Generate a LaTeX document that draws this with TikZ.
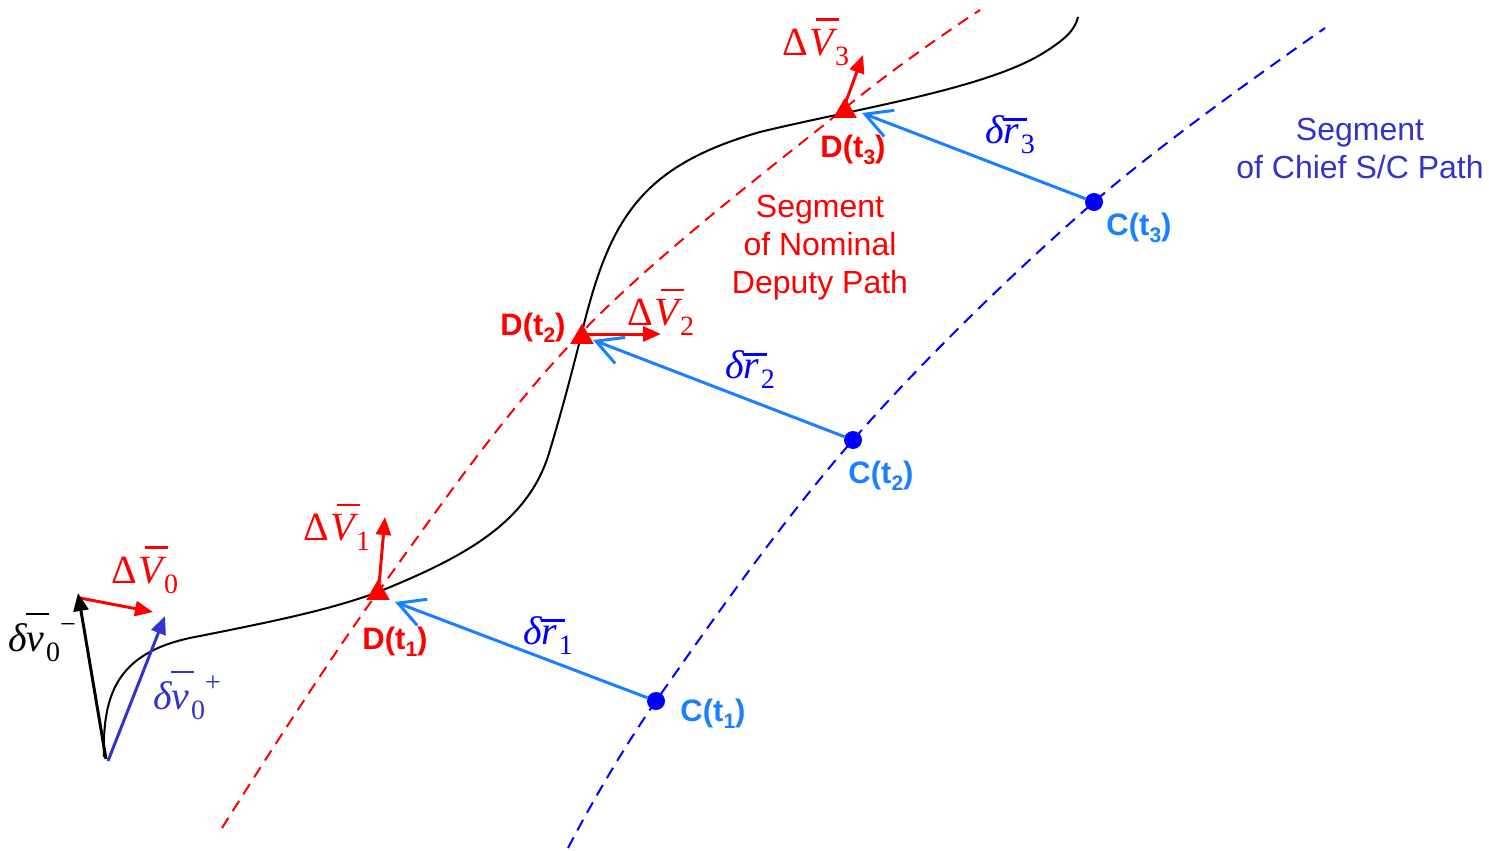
\documentclass[tikz,border=0pt]{standalone}
\usepackage{fontspec}
\setmainfont{Liberation Sans}
\newfontfamily\tms{Liberation Serif}
\usetikzlibrary{arrows.meta,shapes.geometric}
\definecolor{dred}{RGB}{255,0,0}
\definecolor{cblue}{RGB}{0,0,255}
\definecolor{lblue}{RGB}{26,128,255}
\definecolor{pblue}{RGB}{51,51,204}
% overline: #1 content, #2 height of bar, #3 horizontal shift, #4 bar length
\newcommand{\ovl}[4]{\rlap{\kern#3\raisebox{#2}{\rule{#4}{0.06em}}}\hbox{#1}}
\newcommand{\sbs}[1]{\raisebox{-0.25em}{\fontsize{28}{28}\selectfont #1}}
\newcommand{\sps}[1]{\raisebox{0.45em}{\fontsize{28}{28}\selectfont #1}}
\newcommand{\tsub}[1]{\raisebox{-0.22em}{\fontsize{21}{21}\selectfont #1}}
\newcommand{\DVl}[1]{Δ\kern0.03em\ovl{\itshape V}{0.86em}{0.16em}{0.58em}\kern0.02em\sbs{#1}}
\newcommand{\drl}[1]{{\itshape δ}\ovl{\itshape r}{0.58em}{-0.02em}{0.6em}\kern0.04em\sbs{#1}}
\newcommand{\dvl}[2]{{\itshape δ}\ovl{\itshape v}{0.9em}{-0.02em}{0.58em}\kern0.04em\sbs{#1}\sps{#2}}
\begin{document}
\begin{tikzpicture}[x=1pt,y=-1pt,
  mathlab/.style={font=\fontsize{40}{40}\selectfont\tms, inner sep=0pt},
  dlab/.style={font=\fontsize{31}{31}\selectfont\bfseries, text=dred, inner sep=0pt},
  clab/.style={font=\fontsize{31}{31}\selectfont\bfseries, text=lblue, inner sep=0pt},
  pathlab/.style={font=\fontsize{32}{38}\selectfont, align=center, inner sep=0pt},
  tri/.style={regular polygon, regular polygon sides=3, fill=dred, draw=none, minimum size=27pt, inner sep=0pt},
  dot/.style={circle, fill=cblue, draw=none, minimum size=18pt, inner sep=0pt},
  dvarrow/.style={draw=dred, line width=3pt, -{Triangle[length=18pt,width=15pt]}},
  drarrow/.style={draw=lblue, line width=3pt, -{Straight Barb[length=26pt,width=28pt,line width=3pt]}},
  dashline/.style={line width=2pt, dash pattern=on 12pt off 8pt},
]
\useasboundingbox (0,0) rectangle (1489,851);

% paths
\draw[dashline, dred] plot[smooth, tension=0.6] coordinates {(222,828) (378,592) (581,333) (845,108) (980,10)};
\draw[dashline, cblue] plot[smooth, tension=0.6] coordinates {(568,848) (656,701) (853,440) (1094,202) (1325,28)};
\draw[line width=2pt, black] (104,757) .. controls (102,690) and (120,650) .. (200,636)
  .. controls (270,622) and (330,610) .. (378,592)
  .. controls (470,555) and (530,520) .. (550,450)
  .. controls (565,400) and (575,360) .. (585,320)
  .. controls (612,215) and (645,165) .. (760,132)
  .. controls (850,110) and (980,90) .. (1040,55)
  .. controls (1065,40) and (1075,30) .. (1078,17);

% deputy markers
\node[tri] (D1) at (378,593) {};
\node[tri] (D2) at (582,337) {};
\node[tri] (D3) at (845,111) {};

% chief positions
\node[dot] (C1) at (656,701) {};
\node[dot] (C2) at (853,440) {};
\node[dot] (C3) at (1094,202) {};

% relative position arrows
\coordinate (R1) at (395,602);
\coordinate (R2) at (593,340);
\coordinate (R3) at (862,113);
\draw[drarrow] (C1) -- (R1);
\draw[drarrow] (C2) -- (R2);
\draw[drarrow] (C3) -- (R3);

% delta-V arrows
\coordinate (V0s) at (80,598);
\coordinate (V0e) at (153,612);
\coordinate (V1e) at (385,517);
\coordinate (V2e) at (661,334);
\coordinate (V3e) at (863,55);
\draw[dvarrow] (V0s) -- (V0e);
\draw[dvarrow] (D1.center) ++(1,-8) -- (V1e);
\draw[dvarrow] (D2.center) ++(0,-3) -- (V2e);
\draw[dvarrow] (D3.center) ++(-1,-4) -- (V3e);

% initial velocity arrows
\coordinate (O) at (106,759);
\coordinate (Om) at (78,593);
\coordinate (Op) at (165,616);
\draw[line width=3pt, black, -{Triangle[length=18pt,width=15pt]}] (O) -- (Om);
\draw[line width=3pt, pblue, -{Triangle[length=18pt,width=15pt]}] (O) ++(2,2) -- (Op);

% labels
\node[mathlab, text=dred] (lV0) at (145,570) {\DVl{0}};
\node[mathlab, text=black] (lvm) at (42,637) {\dvl{0}{−}};
\node[mathlab, text=pblue] (lvp) at (187,695) {\dvl{0}{+}};
\node[mathlab, text=dred] (lV1) at (337,527) {\DVl{1}};
\node[mathlab, text=dred] (lV2) at (661,312) {\DVl{2}};
\node[mathlab, text=dred] (lV3) at (816,42) {\DVl{3}};
\node[mathlab, text=cblue] (lr1) at (548,636) {\drl{1}};
\node[mathlab, text=cblue] (lr2) at (750,370) {\drl{2}};
\node[mathlab, text=cblue] (lr3) at (1010,135) {\drl{3}};

\node[dlab] (lD1) at (395,642) {D(t\tsub{1})};
\node[dlab] (lD2) at (533,328) {D(t\tsub{2})};
\node[dlab] (lD3) at (853,150) {D(t\tsub{3})};
\node[clab] (lC1) at (713,714) {C(t\tsub{1})};
\node[clab] (lC2) at (881,476) {C(t\tsub{2})};
\node[clab] (lC3) at (1139,228) {C(t\tsub{3})};

\node[pathlab, text=dred] (nom) at (820,248) {Segment\\of Nominal\\Deputy Path};
\node[pathlab, text=pblue] (chief) at (1360,148) {Segment\\of Chief S/C Path};
\end{tikzpicture}
\end{document}
